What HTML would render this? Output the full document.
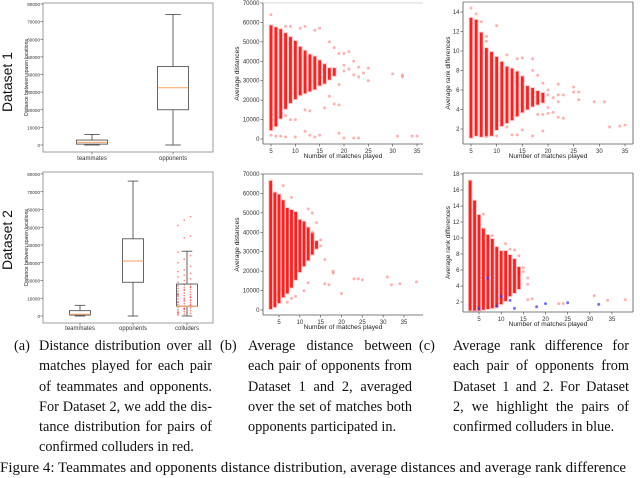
<!DOCTYPE html>
<html><head><meta charset="utf-8">
<style>
html,body{margin:0;padding:0;background:#fff;}
body{width:640px;height:468px;overflow:hidden;position:relative;font-family:"Liberation Sans",sans-serif;}
svg{position:absolute;left:0;top:0;}
.cap{position:absolute;font-family:"Liberation Serif",serif;font-size:14.3px;line-height:20.3px;color:#111;}
.cap .lb{position:absolute;left:0;top:0;}
.cap .tx{position:absolute;text-align:justify;hyphens:manual;}
</style></head>
<body>
<svg id="fig" width="640" height="468" viewBox="0 0 640 468"></svg>

<div class="cap" style="left:14px;top:336px;width:200px;">
<span class="lb">(a)</span><div class="tx" style="left:25px;width:173px;">Distance distribution over all matches played for each pair of teammates and opponents. For Dataset 2, we add the dis-tance distribution for pairs of confirmed colluders in red.</div></div>
<div class="cap" style="left:220px;top:336px;width:195px;">
<span class="lb">(b)</span><div class="tx" style="left:28px;width:164px;">Average distance between each pair of opponents from Dataset 1 and 2, averaged over the set of matches both opponents participated in.</div></div>
<div class="cap" style="left:419px;top:336px;width:220px;">
<span class="lb">(c)</span><div class="tx" style="left:34px;width:176px;">Average rank difference for each pair of opponents from Dataset 1 and 2. For Dataset 2, we highlight the pairs of confirmed colluders in blue.</div></div>
<div class="cap" style="left:0;top:458px;width:640px;white-space:nowrap;font-size:15px;">Figure 4: Teammates and opponents distance distribution, average distances and average rank difference</div>

<script>
// ---------- DATA ----------
const boxCats1 = ["teammates","opponents"];
const boxStats1 = [ // [min,q1,median,q3,max]
  [0,500,1500,2800,6000],
  [0,20000,32500,44500,74000]
];
const boxCats2 = ["teammates","opponents","colluders"];
const boxStats2 = [
  [0,500,1000,3000,6000],
  [0,19000,31000,43500,76000],
  [0,5500,5500,18000,36500]
];
const colluderDist = [500,1000,1500,2000,2500,3000,3500,4000,4500,5000,5500,6000,6500,7000,7500,8000,8500,9000,9500,10000,10500,11000,11500,12000,12500,13000,13500,14000,14500,15000,15500,16000,16500,17000,17500,18000,19000,20000,21000,22000,23000,24000,25000,26000,28000,30000,32000,34000,36000,44000,45000,51000,54000,56000,2200,3800,6200,7700,9100,10800,12300,14800,16200,1200,4300,8700,11700];
const boxTicks = [0,10000,20000,30000,40000,50000,60000,70000,80000];

const b1Cols = [5,6,7,8,9,10,11,12,13,14,15,16,17,18];
const b1Low  = [4000,6000,10000,15000,18000,20000,22000,23000,24000,25000,27000,28000,30000,32000];
const b1High = [59000,58000,57000,55000,53000,51000,48000,46000,44000,43000,41000,39000,37000,37000];
const b1OutX = [5,8,9,11,12,14,15,17,18,19,20,21,22,24,25,25,30,32,32,20,22,16,18,19,8,9,10,12,14,15,19,20,22,23,31,34,35,5,6,7,8,10,13,12,13,11,17,19,20,21,23,23];
const b1OutY = [64000,58000,58000,57000,58000,56000,57000,50000,47000,44000,44000,45000,40000,34000,36500,30000,33500,32000,33000,35000,33000,16000,18000,17500,12000,10000,10000,4000,1000,2000,3000,500,500,500,1500,1500,1500,2000,1500,1500,1000,1000,2000,15000,14500,24000,22000,28000,38000,36000,37000,32000];
const b2Cols = [3,4,5,6,7,8,9,10,11,12,13,14];
const b2Low  = [0,1000,3000,6000,8000,11000,15000,19000,22000,25000,28000,31000];
const b2High = [67000,61000,60000,57000,53000,52000,51000,47000,46000,43000,40000,36000];
const b2OutX = [16,18,18,16,17,20,23,24,25,31,32,34,38,6,8,7,8,9,11,12,13,14,15,12,13,15];
const b2OutY = [26000,19000,20000,13500,13000,8500,16000,16000,15500,17000,13000,13500,14500,64000,58000,4000,6000,7000,10000,14000,40000,45000,36000,52000,50000,33000];
const distTicks = [0,10000,20000,30000,40000,50000,60000,70000];
const matchTicks = [5,10,15,20,25,30,35];

const c1Cols = [5,6,7,8,9,10,11,12,13,14,15,16,17,18,19];
const c1Low  = [1,1.2,1.1,1.2,1.2,1.8,2.2,2.5,2.8,3.2,3.6,3.9,4.2,4.4,4.6];
const c1High = [13.5,13.3,12,10.4,10,9.5,9,8.5,8.3,8,7.5,6.5,6.3,6,5.8];
const c1OutX = [5,6,7,8,8,10,12,14,15,17,17,18,19,20,20,21,22,22,23,25,25,26,26,29,31,32,34,35,20,21,22,23,19,17,15,14,13,12,10,8,20,22,18,19];
const c1OutY = [14.4,13.8,13,11.5,11,12.6,9.6,9.2,9.3,9.2,8,7.5,6.7,6,5.5,5.2,5.5,6.6,5.5,6.3,5.8,5,5.8,4.8,4.8,2.2,2.3,2.4,3.6,3.7,3.2,3.1,1.8,1.3,1.9,1.4,1.4,2.2,1.3,1.2,4.2,4.8,3.5,3.5];
const c1Ticks = [2,4,6,8,10,12,14];
const c2Cols = [3,4,5,6,7,8,9,10,11,12,13,14];
const c2Low  = [0.8,0.8,0.8,0.9,1,1.1,1.2,1.6,2,2.6,3,3.5];
const c2High = [17.3,14.8,13,11.3,10.5,10,9,8.5,8.5,8,7.5,6.5];
const c2OutX = [6,8,11,12,13,14,15,16,16,17,23,24,31,34,38,14,15,16];
const c2OutY = [13,10.3,9.3,8.6,8.5,7.8,6.3,5,2.3,2.4,1.8,1.8,2.8,2.2,2.3,5.6,5.8,4.2];
const blueX = [5,7,9,10,12,13,18,20,25,32];
const blueY = [1.2,5,1.5,2.7,2.2,1.2,1.4,1.8,1.9,1.7];
const c2Ticks = [2,4,6,8,10,12,14,16,18];

// ---------- DRAW ----------
const NS="http://www.w3.org/2000/svg";
const svg=document.getElementById('fig');
function el(tag,attrs,parent,txt){const e=document.createElementNS(NS,tag);for(const k in attrs)e.setAttribute(k,attrs[k]);if(txt!==undefined)e.textContent=txt;(parent||svg).appendChild(e);return e;}
function lin(d0,d1,r0,r1){return v=>r0+(v-d0)*(r1-r0)/(d1-d0);}
function group(name){const g=el('g',{});return g;}

function yAxis(g,ticks,y,x0,fs,gap){ticks.forEach(t=>{
  el('line',{x1:x0-2.5,x2:x0,y1:y(t),y2:y(t),stroke:'#444','stroke-width':0.6},g);
  const tx=el('text',{x:x0-gap,y:y(t)+2,'font-size':fs,'text-anchor':'end',fill:'#333'},g,String(t));
  
  
});}
function xAxis(g,ticks,x,y0){ticks.forEach(t=>{
  el('line',{x1:x(t),x2:x(t),y1:y0,y2:y0+2.5,stroke:'#444','stroke-width':0.6},g);
  const tx=el('text',{x:x(t),y:y0+9,'font-size':6,'text-anchor':'middle',fill:'#333'},g,String(t));
  
  
});}
function title(g,txt,x,y,rot,name,fs){
  const t=el('text',{x:x,y:y,'font-size':fs||6.6,'text-anchor':'middle',fill:'#222',transform:rot?`rotate(-90 ${x} ${y})`:''},g,txt);
  
  
}

// Dataset labels
[["Dataset 1",82],["Dataset 2",240]].forEach(([s,cy],i)=>{
  const t=el('text',{x:12,y:cy,'font-size':14,'font-family':'Liberation Sans, sans-serif','text-anchor':'middle',fill:'#111',transform:`rotate(-90 12 ${cy})`},svg,s);
  
  
});

// Box plots
function boxPanel(name,cats,stats,centers,bw,y0px,y80px,frame,labelY,colluders){
  const g=group(name);
  const y=lin(0,80000,y0px,y80px);
  el('rect',{x:frame[0],y:frame[1],width:frame[2]-frame[0],height:frame[3]-frame[1],fill:'none',stroke:'#888','stroke-width':0.8},g);
  yAxis(g,boxTicks,y,frame[0],4.6,3);
  title(g,'Distance between spawn locations',28,(frame[1]+frame[3])/2,true,'y-axis-title',5);
  if(colluders){
    colluderDist.forEach((v,i)=>{
      const c=el('circle',{cx:centers[2]+((i*7)%21-10)*0.9,cy:y(v),r:0.9,fill:'#f00','fill-opacity':0.45},g);
      
      
    });
  }
  stats.forEach((s,i)=>{
    const cx=centers[i];
    const bg=el('g',{},g);
    
    
    const st={stroke:'#555','stroke-width':0.9,fill:'none'};
    el('line',Object.assign({x1:cx,x2:cx,y1:y(s[0]),y2:y(s[1])},st),bg);
    el('line',Object.assign({x1:cx,x2:cx,y1:y(s[3]),y2:y(s[4])},st),bg);
    el('line',Object.assign({x1:cx-bw/4,x2:cx+bw/4,y1:y(s[0]),y2:y(s[0])},st),bg);
    el('line',Object.assign({x1:cx-bw/4,x2:cx+bw/4,y1:y(s[4]),y2:y(s[4])},st),bg);
    el('rect',Object.assign({x:cx-bw/2,y:y(s[3]),width:bw,height:Math.max(0.5,y(s[1])-y(s[3]))},st),bg);
    el('line',{x1:cx-bw/2,x2:cx+bw/2,y1:y(s[2]),y2:y(s[2]),stroke:'#f5a060','stroke-width':1},bg);
    el('line',{x1:cx,x2:cx,y1:frame[3],y2:frame[3]+2.5,stroke:'#444','stroke-width':0.6},g);
    const t=el('text',{x:cx,y:labelY,'font-size':6,'text-anchor':'middle',fill:'#333'},g,cats[i]);
    
    
  });
}
boxPanel('boxplot-dataset-1',boxCats1,boxStats1,[92,173],31,145,4,[43,3,213,152],160,false);
boxPanel('boxplot-dataset-2',boxCats2,boxStats2,[80,133,187],21,316,174,[43,172,213,323],330,true);

// Scatter panels
function scatterPanel(name,opt){
  const g=group(name);
  const x=lin(opt.xd[0],opt.xd[1],opt.xr[0],opt.xr[1]);
  const y=lin(opt.yd[0],opt.yd[1],opt.yr[0],opt.yr[1]);
  const f=opt.frame;
  opt.cols.forEach((c,i)=>{
    const r=el('rect',{x:x(c)-2.4,y:y(opt.high[i]),width:4.8,height:y(opt.low[i])-y(opt.high[i]),fill:'#ffb0b0','fill-opacity':0.6},g);
    
    
    const r2=el('rect',{x:x(c)-1.4,y:y(opt.high[i])+1,width:2.8,height:Math.max(0,y(opt.low[i])-y(opt.high[i])-2),fill:'#f00','fill-opacity':0.85},g);
    
    
  });
  opt.ox.forEach((v,i)=>{
    const c=el('circle',{cx:x(v),cy:y(opt.oy[i]),r:1.5,fill:'#f00','fill-opacity':0.3},g);
    
    
  });
  if(opt.bx){opt.bx.forEach((v,i)=>{
    const c=el('circle',{cx:x(v),cy:y(opt.by[i]),r:1.5,fill:'#33f','fill-opacity':0.7},g);
    
    
  });}
  el('line',{x1:f[0],x2:f[0],y1:f[1],y2:f[3],stroke:'#555','stroke-width':0.8},g);
  el('line',{x1:f[0],x2:f[2],y1:f[3],y2:f[3],stroke:'#555','stroke-width':0.8},g);
  el('line',{x1:f[0],x2:f[2],y1:f[1],y2:f[1],stroke:opt.topc,'stroke-width':0.8},g);
  if(opt.right) el('line',{x1:f[2],x2:f[2],y1:f[1],y2:f[3],stroke:'#555','stroke-width':0.8},g);
  yAxis(g,opt.yt,y,f[0],6,3.5);
  xAxis(g,matchTicks,x,f[3]);
  title(g,opt.ytitle,opt.ytx,(f[1]+f[3])/2,true,'y-axis-title');
  title(g,'Number of matches played',(f[0]+f[2])/2,f[3]+14,false,'x-axis-title');
}
scatterPanel('scatter-distance-dataset-1',{xd:[5,35],xr:[271,417],yd:[0,70000],yr:[139,3],frame:[263,3,423,144],cols:b1Cols,low:b1Low,high:b1High,ox:b1OutX,oy:b1OutY,yt:distTicks,ytitle:'Average distances',ytx:239,topc:'#ccc'});
scatterPanel('scatter-distance-dataset-2',{xd:[5,35],xr:[279,404],yd:[0,70000],yr:[310,174],frame:[263,174,423,315],cols:b2Cols,low:b2Low,high:b2High,ox:b2OutX,oy:b2OutY,yt:distTicks,ytitle:'Average distances',ytx:239,topc:'#666'});
scatterPanel('scatter-rank-dataset-1',{xd:[5,35],xr:[471,625],yd:[2,14],yr:[129,12],frame:[463,2,633,144],cols:c1Cols,low:c1Low,high:c1High,ox:c1OutX,oy:c1OutY,yt:c1Ticks,ytitle:'Average rank differences',ytx:450,topc:'#666',right:true});
scatterPanel('scatter-rank-dataset-2',{xd:[5,35],xr:[479,612],yd:[2,18],yr:[302,174],frame:[463,173,633,312],cols:c2Cols,low:c2Low,high:c2High,ox:c2OutX,oy:c2OutY,bx:blueX,by:blueY,yt:c2Ticks,ytitle:'Average rank differences',ytx:450,topc:'#666',right:true});
</script>
</body></html>
